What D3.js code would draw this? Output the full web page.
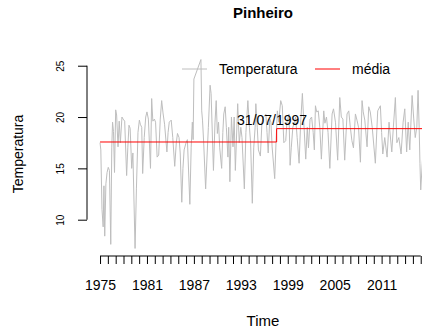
<!DOCTYPE html>
<html>
<head>
<meta charset="utf-8">
<script src="https://cdn.jsdelivr.net/npm/d3@7"></script>
<style>
  body { margin: 0; background: #fff; }
  text { font-family: "Liberation Sans", Arial, sans-serif; fill: #000; }
</style>
</head>
<body>
<div class="chart"></div>
<script>
// readings of the gray series (decimal year, temperature)
var obsTime = [
  1975.00, 1975.10, 1975.25, 1975.40, 1975.50, 1975.60, 1975.75, 1975.90,
  1976.05, 1976.20, 1976.37, 1976.50, 1976.60, 1976.72, 1976.85,
  1977.00, 1977.12, 1977.30, 1977.45, 1977.60, 1977.80, 1977.95,
  1978.15, 1978.40, 1978.55, 1978.70, 1978.85,
  1979.05, 1979.20, 1979.48, 1979.65, 1979.85,
  1980.03, 1980.15, 1980.33, 1980.45, 1980.65, 1980.84,
  1981.00, 1981.18, 1981.45, 1981.60, 1981.75, 1981.95,
  1982.10, 1982.30, 1982.50, 1982.70, 1982.88,
  1983.05, 1983.25, 1983.55, 1983.70, 1983.85,
  1984.10, 1984.30, 1984.55, 1984.75, 1984.90,
  1985.10, 1985.25, 1985.45, 1985.60, 1985.75,
  1986.00, 1986.17, 1986.48, 1986.65, 1986.80, 1986.90,
  1987.00, 1987.90, 1988.00, 1988.10, 1988.25, 1988.50, 1988.70, 1988.85,
  1989.07, 1989.20, 1989.50, 1989.70, 1989.85,
  1990.00, 1990.15, 1990.30, 1990.55, 1990.70, 1990.82,
  1991.00, 1991.15, 1991.35, 1991.45, 1991.60, 1991.80,
  1992.00, 1992.15, 1992.30, 1992.60, 1992.80,
  1993.00, 1993.15, 1993.45, 1993.65, 1993.90,
  1994.10, 1994.25, 1994.47, 1994.65, 1994.83, 1994.92,
  1995.10, 1995.25, 1995.50, 1995.70, 1995.90,
  1996.20, 1996.35, 1996.50, 1996.70, 1996.85,
  1997.00, 1997.33, 1997.50, 1997.67, 1997.85,
  1998.10, 1998.30, 1998.50, 1998.74, 1998.90,
  1999.16, 1999.30, 1999.45, 1999.65, 1999.85,
  2000.00, 2000.20, 2000.45, 2000.65, 2000.87,
  2001.05, 2001.30, 2001.50, 2001.65, 2001.85,
  2002.05, 2002.25, 2002.40, 2002.54, 2002.70, 2002.90,
  2003.10, 2003.30, 2003.60, 2003.75, 2003.95,
  2004.15, 2004.38, 2004.67, 2004.85,
  2005.10, 2005.38, 2005.65, 2005.85,
  2006.05, 2006.28, 2006.58, 2006.80,
  2007.00, 2007.20, 2007.40, 2007.65, 2007.85,
  2008.05, 2008.29, 2008.50, 2008.65, 2008.85,
  2009.14, 2009.35, 2009.55, 2009.80,
  2010.20, 2010.50, 2010.84,
  2011.00, 2011.15, 2011.40, 2011.70, 2011.95,
  2012.30, 2012.50, 2012.76, 2012.95,
  2013.20, 2013.49, 2013.75, 2013.96,
  2014.20, 2014.40, 2014.60, 2014.90,
  2015.10, 2015.30, 2015.50, 2015.66, 2015.80, 2015.90, 2016.00,
  2016.20, 2016.40
];
var obsTemp = [
  17.5, 16.8, 11.0, 9.3, 13.3, 8.4, 13.5, 14.6,
  15.1, 14.8, 7.6, 17.0, 19.5, 18.6, 14.6,
  20.7, 20.2, 17.1, 19.6, 17.5, 20.0, 19.8,
  19.6, 14.3, 17.0, 19.2, 18.9,
  15.0, 16.5, 7.2, 13.0, 18.5,
  19.7, 19.3, 19.0, 14.5, 18.0, 20.0,
  20.5, 19.8, 15.0, 21.8, 19.6, 19.8,
  19.5, 16.1, 16.3, 19.8, 21.6,
  20.4, 19.3, 16.6, 18.5, 19.5,
  19.7, 18.0, 15.2, 17.5, 18.4,
  18.0, 16.5, 11.7, 15.0, 16.8,
  17.5, 17.8, 11.5, 17.0, 19.5, 17.8,
  23.7, 25.6, 20.6, 19.7, 17.5, 13.0, 16.5, 19.0,
  23.1, 22.3, 14.8, 19.5, 21.6,
  18.4, 19.5, 17.0, 15.0, 18.5, 20.3,
  21.0, 19.0, 16.1, 19.0, 13.7, 20.0,
  17.1, 20.0, 14.8, 21.3, 17.5,
  19.0, 18.0, 13.0, 18.5, 21.6,
  19.0, 17.5, 11.6, 17.0, 19.0, 21.3,
  19.0, 16.8, 16.2, 19.5, 20.0,
  20.3, 18.5, 16.5, 19.8, 19.5,
  17.1, 14.0, 17.5, 20.6, 19.5,
  21.6, 21.1, 17.5, 17.7, 19.5,
  20.3, 15.3, 17.0, 19.0, 19.5,
  20.0, 18.0, 15.5, 19.5, 22.3,
  19.5, 15.9, 19.0, 17.0, 19.8,
  20.0, 18.5, 16.8, 21.1, 20.5, 20.6,
  19.0, 15.9, 20.6, 19.4, 20.0,
  18.5, 15.0, 20.3, 20.8,
  19.5, 15.8, 21.9, 20.0,
  19.8, 15.8, 20.3, 20.6,
  19.0, 17.7, 17.0, 20.3, 19.7,
  19.0, 15.6, 21.6, 20.5, 19.7,
  17.1, 21.0, 20.5, 19.0,
  15.5, 20.6, 21.1,
  18.5, 16.4, 18.0, 16.1, 19.5,
  16.6, 19.0, 21.9, 17.5,
  18.0, 16.4, 19.5, 20.8,
  16.6, 19.5, 16.8, 22.1,
  19.9, 18.0, 19.0, 22.6, 19.0, 15.5, 12.9,
  15.5, 18.0
];

// mean levels before / after the break
var seriesStart = 1975;
var seriesEnd = 2016.67;
var breakTime = 1997.58;
var breakLabel = "31/07/1997";
var meanLevels = [17.57, 18.87];

var yTicks = [10, 15, 20, 25];
var xMinorTicks = d3.range(1975, 2017);
var xLabelYears = [1975, 1981, 1987, 1993, 1999, 2005, 2011];

var fullWidth = 422, fullHeight = 336;
var plot = {left: 87, right: 439, top: 52, bottom: 256};

var svg = d3.select(`.chart`)
    .append(`svg`)
    .attr(`width`, fullWidth)
    .attr(`height`, fullHeight);

var span = seriesEnd - seriesStart;
var xScale = d3.scaleLinear()
    .domain([seriesStart - 0.04 * span, seriesEnd + 0.04 * span])
    .range([plot.left, plot.right]);

var yExt = d3.extent(obsTemp);
var ySpan = yExt[1] - yExt[0];
var yScale = d3.scaleLinear()
    .domain([yExt[0] - 0.04 * ySpan, yExt[1] + 0.04 * ySpan])
    .range([plot.bottom, plot.top]);

// title
svg.append(`text`)
    .attr(`x`, (plot.left + plot.right) / 2)
    .attr(`y`, 18)
    .style(`text-anchor`, `middle`)
    .style(`font-weight`, `bold`)
    .style(`font-size`, `15px`)
    .text(`Pinheiro`);

// data line
var series = obsTime.map((t, i) => [t, obsTemp[i]]);
svg.append(`path`)
    .datum(series)
    .attr(`fill`, `none`)
    .attr(`stroke`, `#bebebe`)
    .attr(`stroke-width`, 1)
    .attr(`d`, d3.line().x(d => xScale(d[0])).y(d => yScale(d[1])));

// mean step line
var meanPts = [
    [seriesStart, meanLevels[0]],
    [breakTime, meanLevels[0]],
    [breakTime, meanLevels[1]],
    [seriesEnd, meanLevels[1]]
];
svg.append(`path`)
    .datum(meanPts)
    .attr(`fill`, `none`)
    .attr(`stroke`, `#ff0000`)
    .attr(`stroke-width`, 1)
    .attr(`d`, d3.line().x(d => xScale(d[0])).y(d => yScale(d[1])));

svg.append(`text`)
    .attr(`x`, xScale(1997))
    .attr(`y`, yScale(19.68) + 5)
    .style(`text-anchor`, `middle`)
    .style(`font-size`, `14px`)
    .text(breakLabel);

// x axis
var xAxis = d3.axisBottom(xScale)
    .tickValues(xMinorTicks)
    .tickSize(8)
    .tickSizeOuter(0)
    .tickPadding(16)
    .tickFormat(d => xLabelYears.includes(d) ? d : ``);

var gx = svg.append(`g`)
    .attr(`transform`, `translate(0, ${plot.bottom})`)
    .call(xAxis);
gx.select(`.domain`).remove();
gx.append(`line`)
    .attr(`x1`, xScale(xMinorTicks[0]))
    .attr(`x2`, xScale(xMinorTicks[xMinorTicks.length - 1]))
    .attr(`stroke`, `#000`);
gx.selectAll(`text`)
    .style(`font-size`, `14px`)
    .style(`font-family`, `"Liberation Sans", Arial, sans-serif`);

// y axis
var yAxis = d3.axisLeft(yScale)
    .tickValues(yTicks)
    .tickSize(9)
    .tickSizeOuter(0);
var gy = svg.append(`g`)
    .attr(`transform`, `translate(${plot.left}, 0)`)
    .call(yAxis);
gy.select(`.domain`).remove();
gy.append(`line`)
    .attr(`y1`, yScale(yTicks[0]))
    .attr(`y2`, yScale(yTicks[yTicks.length - 1]))
    .attr(`stroke`, `#000`);
gy.selectAll(`.tick text`)
    .attr(`x`, null)
    .attr(`dy`, null)
    .attr(`transform`, `translate(-23, 0) rotate(-90)`)
    .style(`text-anchor`, `middle`)
    .style(`font-size`, `10px`)
    .style(`font-family`, `"Liberation Sans", Arial, sans-serif`);

// axis titles
svg.append(`text`)
    .attr(`x`, (plot.left + plot.right) / 2)
    .attr(`y`, 326)
    .style(`text-anchor`, `middle`)
    .style(`font-size`, `15px`)
    .text(`Time`);

svg.append(`text`)
    .attr(`transform`, `translate(23, ${(plot.top + plot.bottom) / 2}) rotate(-90)`)
    .style(`text-anchor`, `middle`)
    .style(`font-size`, `14px`)
    .text(`Temperatura`);

// legend
var legend = svg.append(`g`);
var legendItems = [
    {label: `Temperatura`, color: `#bebebe`, x: 182},
    {label: `média`, color: `#ff0000`, x: 315}
];
legendItems.forEach(d => {
    legend.append(`line`)
        .attr(`x1`, d.x).attr(`x2`, d.x + 25)
        .attr(`y1`, 69).attr(`y2`, 69)
        .attr(`stroke`, d.color);
    legend.append(`text`)
        .attr(`x`, d.x + 37)
        .attr(`y`, 74)
        .style(`font-size`, `14px`)
        .text(d.label);
});
</script>
</body>
</html>
